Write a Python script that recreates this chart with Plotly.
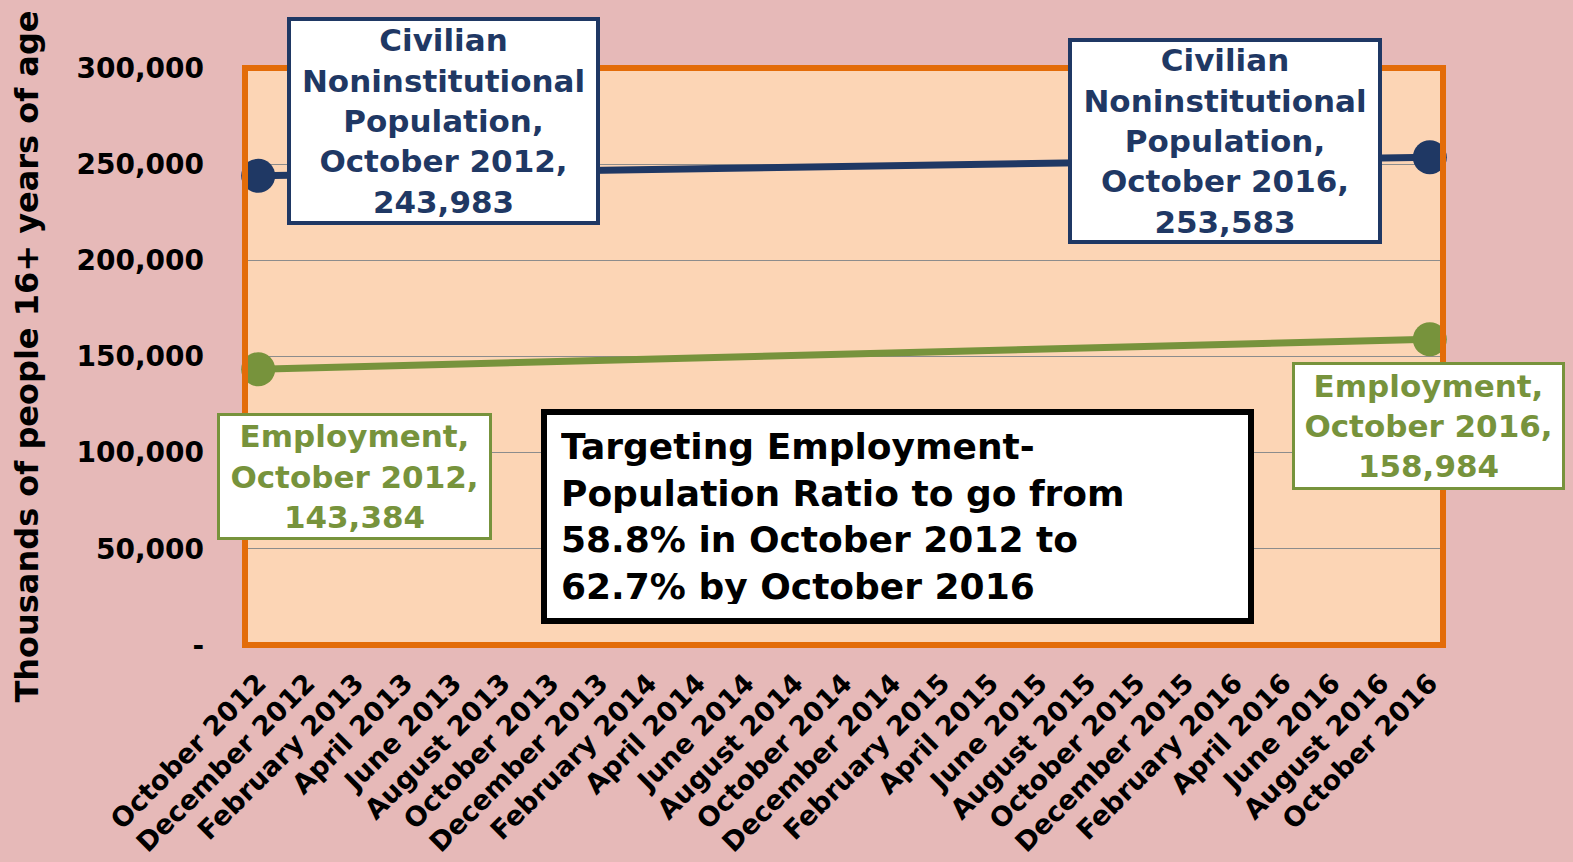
import plotly.graph_objects as go

months = ["October 2012", "December 2012", "February 2013", "April 2013", "June 2013",
          "August 2013", "October 2013", "December 2013", "February 2014", "April 2014",
          "June 2014", "August 2014", "October 2014", "December 2014", "February 2015",
          "April 2015", "June 2015", "August 2015", "October 2015", "December 2015",
          "February 2016", "April 2016", "June 2016", "August 2016", "October 2016"]

point_months = ["October 2012", "October 2016"]
population = [243983, 253583]
employment = [143384, 158984]

y_ticks = [0, 50000, 100000, 150000, 200000, 250000, 300000]
y_ticktext = ["-", "50,000", "100,000", "150,000", "200,000", "250,000", "300,000"]

NAVY = "#1F3864"
GREEN = "#77933C"
ORANGE = "#E36C09"
FONT = "DejaVu Sans"

fig = go.Figure()
fig.add_trace(go.Scatter(x=point_months, y=population, mode="lines+markers",
                         line=dict(color=NAVY, width=7), marker=dict(size=34, color=NAVY),
                         name="Civilian Noninstitutional Population", cliponaxis=False))
fig.add_trace(go.Scatter(x=point_months, y=employment, mode="lines+markers",
                         line=dict(color=GREEN, width=7), marker=dict(size=34, color=GREEN),
                         name="Employment", cliponaxis=False))

L, R, T, B = 245, 130, 68, 217
W, H = 1573, 862
pw, ph = W - L - R, H - T - B


def px(xp):
    return (xp - L) / pw


def py(yp):
    return (H - B - yp) / ph


def box(text, x0, y0, x1, y1, color, size, bw, pad=0, align="center", bg="white"):
    fig.add_annotation(
        text=text, xref="paper", yref="paper",
        x=px((x0 + x1) / 2), y=py((y0 + y1) / 2), xanchor="center", yanchor="middle",
        showarrow=False, align=align,
        width=(x1 - x0) - 2 * bw - 2 * pad, height=(y1 - y0) - 2 * bw - 2 * pad,
        bgcolor=bg, bordercolor=color, borderwidth=bw, borderpad=pad,
        font=dict(family=FONT, size=size, color=color, weight="bold"),
    )


box("Civilian<br>Noninstitutional<br>Population,<br>October 2012,<br>243,983",
    287, 17, 600, 225, NAVY, 31, 4)
box("Civilian<br>Noninstitutional<br>Population,<br>October 2016,<br>253,583",
    1068, 38, 1382, 244, NAVY, 31, 4)
box("Employment,<br>October 2012,<br>143,384", 217, 413, 492, 540, GREEN, 31, 3)
box("Employment,<br>October 2016,<br>158,984", 1292, 362, 1565, 490, GREEN, 31, 3)
box("Targeting Employment-<br>Population Ratio to go from<br>58.8% in October 2012 to<br>62.7% by October 2016",
    541, 409, 1254, 624, "black", 36, 6, pad=14, align="left")

fig.add_shape(type="rect", xref="paper", yref="paper", x0=0, y0=0, x1=1, y1=1,
              line=dict(color=ORANGE, width=6), layer="above")

fig.update_layout(
    width=W, height=H,
    margin=dict(l=L, r=R, t=T, b=B, autoexpand=False),
    paper_bgcolor="#E6B9B8", plot_bgcolor="#FCD5B5",
    showlegend=False,
    font=dict(family=FONT, color="black"),
    xaxis=dict(type="category", categoryorder="array", categoryarray=months,
               tickvals=months, ticktext=months, range=[-0.27, 24.27],
               tickangle=-45, showgrid=False, ticks="", ticklabelstandoff=16,
               tickfont=dict(family=FONT, size=27, color="black", weight="bold")),
    yaxis=dict(range=[0, 300000], tickvals=y_ticks, ticktext=y_ticktext,
               showgrid=True, gridcolor="#8C8C8C", gridwidth=1, zeroline=False,
               ticks="", ticklabelstandoff=40,
               tickfont=dict(family=FONT, size=28, color="black", weight="bold"),
               title=dict(text="Thousands of people 16+ years of age", standoff=28,
                          font=dict(family=FONT, size=32, color="black", weight="bold"))),
)

fig.write_html("out.html", config={"displayModeBar": False},
               post_script="document.body.style.margin='0';document.body.style.overflow='hidden';")
